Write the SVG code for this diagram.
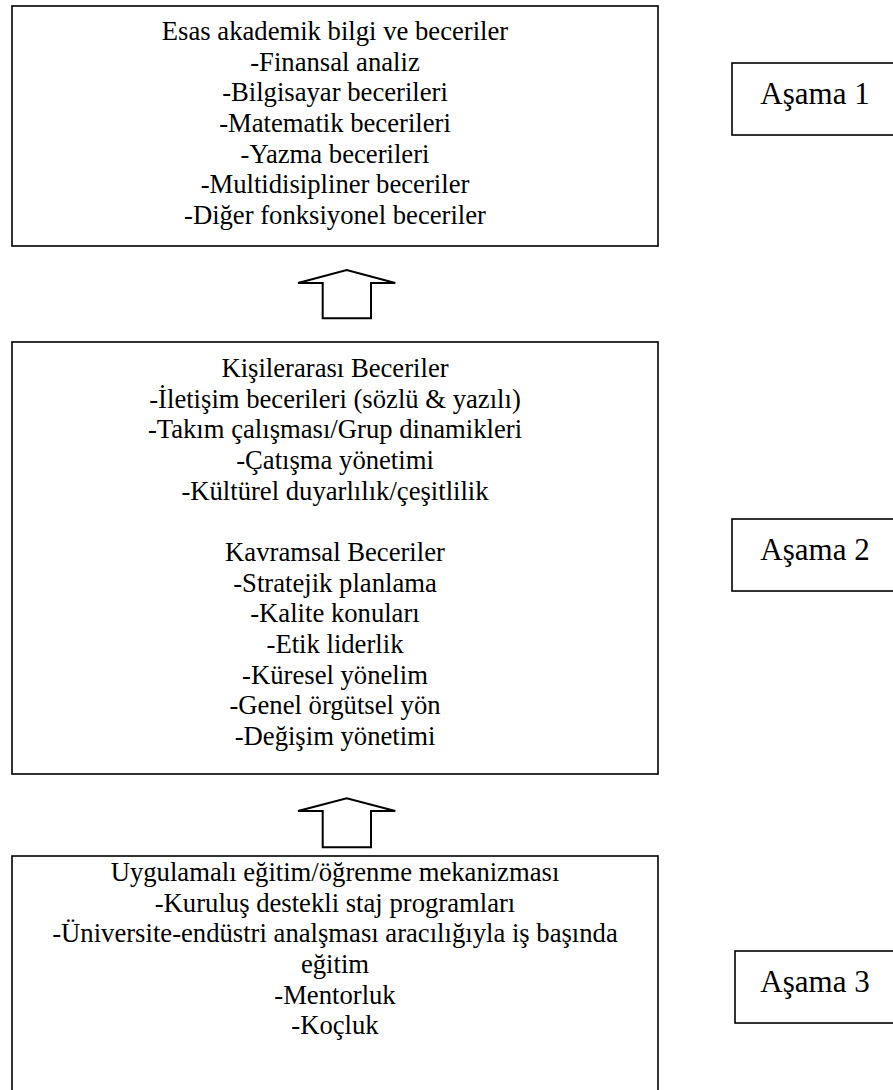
<svg xmlns="http://www.w3.org/2000/svg" width="893" height="1090" viewBox="0 0 893 1090">
  <style>
    .box { fill: #ffffff; stroke: #000000; stroke-width: 1.6; }
    .arrow { fill: #ffffff; stroke: #000000; stroke-width: 2; stroke-linejoin: miter; }
    .txt { font-family: "Liberation Serif", "Times New Roman", serif; font-size: 26.67px; fill: #000000; text-anchor: middle; }
    .stage { font-family: "Liberation Serif", "Times New Roman", serif; font-size: 31px; fill: #000000; text-anchor: middle; }
  </style>
  <rect width="893" height="1090" fill="#ffffff"/>

  <!-- Level 1: core academic knowledge -->
  <g id="node-academic">
    <rect class="box" x="12" y="6" width="646" height="240"/>
    <text class="txt" x="335" y="40">Esas akademik bilgi ve beceriler</text>
    <text class="txt" x="335" y="70.7">-Finansal analiz</text>
    <text class="txt" x="335" y="101.3">-Bilgisayar becerileri</text>
    <text class="txt" x="335" y="132">-Matematik becerileri</text>
    <text class="txt" x="335" y="162.7">-Yazma becerileri</text>
    <text class="txt" x="335" y="193.3">-Multidisipliner beceriler</text>
    <text class="txt" x="335" y="224">-Diğer fonksiyonel beceriler</text>
  </g>

  <g id="node-stage1">
    <rect class="box" x="732" y="63" width="170" height="72"/>
    <text class="stage" x="815" y="104">Aşama 1</text>
  </g>

  <!-- Level 2: interpersonal and conceptual skills -->
  <g id="node-skills">
    <rect class="box" x="12" y="342" width="646" height="432"/>
    <text class="txt" x="335" y="377">Kişilerarası Beceriler</text>
    <text class="txt" x="335" y="407.7">-İletişim becerileri (sözlü &amp; yazılı)</text>
    <text class="txt" x="335" y="438.3">-Takım çalışması/Grup dinamikleri</text>
    <text class="txt" x="335" y="469">-Çatışma yönetimi</text>
    <text class="txt" x="335" y="499.7">-Kültürel duyarlılık/çeşitlilik</text>
    <text class="txt" x="335" y="561">Kavramsal Beceriler</text>
    <text class="txt" x="335" y="591.7">-Stratejik planlama</text>
    <text class="txt" x="335" y="622.3">-Kalite konuları</text>
    <text class="txt" x="335" y="653">-Etik liderlik</text>
    <text class="txt" x="335" y="683.7">-Küresel yönelim</text>
    <text class="txt" x="335" y="714.3">-Genel örgütsel yön</text>
    <text class="txt" x="335" y="745">-Değişim yönetimi</text>
  </g>

  <g id="node-stage2">
    <rect class="box" x="732" y="519" width="170" height="72"/>
    <text class="stage" x="815" y="560">Aşama 2</text>
  </g>

  <!-- Level 3: applied learning -->
  <g id="node-applied">
    <rect class="box" x="12" y="856" width="646" height="250"/>
    <text class="txt" x="335" y="881">Uygulamalı eğitim/öğrenme mekanizması</text>
    <text class="txt" x="335" y="911.7">-Kuruluş destekli staj programları</text>
    <text class="txt" x="335" y="942.3">-Üniversite-endüstri analşması aracılığıyla iş başında</text>
    <text class="txt" x="335" y="973">eğitim</text>
    <text class="txt" x="335" y="1003.7">-Mentorluk</text>
    <text class="txt" x="335" y="1034.3">-Koçluk</text>
  </g>

  <g id="node-stage3">
    <rect class="box" x="735" y="951" width="170" height="72"/>
    <text class="stage" x="815" y="992">Aşama 3</text>
  </g>

  <!-- Block arrows pointing upward between levels -->
  <g id="connectors">
    <path class="arrow" d="M322.7,318.3 L322.7,283 L298,283 L346.7,270 L395.3,283 L371,283 L371,318.3 Z"/>
    <path class="arrow" d="M322.7,847.3 L322.7,811 L298,811 L346.7,798.3 L395.3,811 L371,811 L371,847.3 Z"/>
  </g>
</svg>
